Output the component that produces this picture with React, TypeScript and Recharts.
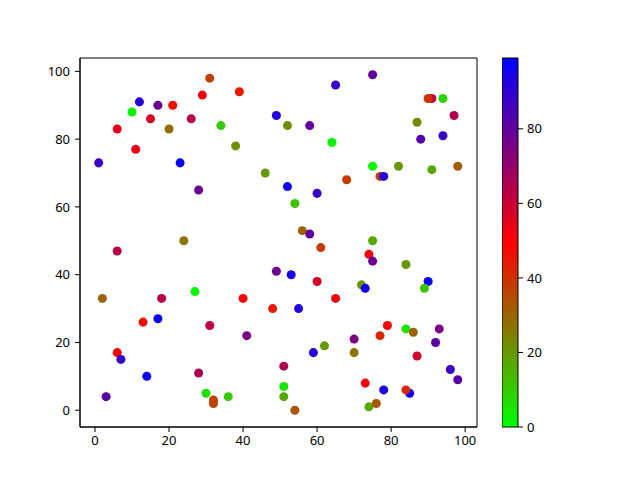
import React from 'react';
import { ScatterChart, Scatter, XAxis, YAxis, ZAxis, Cell, ReferenceArea, BarChart, Bar } from 'recharts';

// point positions and colour values
const xs = [31, 39, 29, 12, 17, 21, 10, 49, 15, 26, 6, 20, 34, 11, 38, 1, 23, 46, 28, 24,
    75, 65, 91, 90, 94, 52, 58, 97, 87, 88, 94, 64, 75, 82, 91, 98, 77, 78, 68, 52,
    60, 54, 56, 58, 75, 61, 6, 49, 2, 18, 27, 40, 48, 13, 17, 31, 41, 6, 7, 14,
    28, 3, 30, 32, 32, 36, 74, 75, 84, 53, 60, 72, 73, 90, 89, 65, 55, 79, 84, 86,
    93, 77, 70, 92, 62, 59, 70, 87, 96, 98, 51, 51, 51, 54, 73, 78, 85, 84, 74, 76];
const ys = [98, 94, 93, 91, 90, 90, 88, 87, 86, 86, 83, 83, 84, 77, 78, 73, 73, 70, 65, 50,
    99, 96, 92, 92, 92, 84, 84, 87, 85, 80, 81, 79, 72, 72, 71, 72, 69, 69, 68, 66,
    64, 61, 53, 52, 50, 48, 47, 41, 33, 33, 35, 33, 30, 26, 27, 25, 22, 17, 15, 10,
    11, 4, 5, 3, 2, 4, 46, 44, 43, 40, 38, 37, 36, 38, 36, 33, 30, 25, 24, 23,
    24, 22, 21, 20, 19, 17, 17, 16, 12, 9, 13, 7, 4, 0, 8, 6, 5, 6, 1, 2];
const cs = [37, 45, 52, 92, 78, 47, 2, 92, 57, 63, 55, 28, 10, 54, 22, 88, 96, 20, 78, 27,
    80, 88, 62, 40, 8, 22, 80, 65, 23, 83, 88, 2, 1, 20, 17, 32, 38, 92, 38, 96,
    88, 12, 30, 80, 17, 38, 63, 78, 30, 63, 1, 50, 45, 46, 96, 62, 75, 51, 88, 97,
    66, 82, 6, 36, 36, 10, 50, 78, 20, 94, 58, 20, 95, 97, 12, 53, 93, 50, 5, 30,
    75, 42, 75, 82, 20, 92, 27, 58, 88, 82, 65, 5, 17, 33, 52, 93, 97, 42, 17, 32];

const axisTicks = [0, 20, 40, 60, 80, 100];
const colorTicks = [0, 20, 40, 60, 80];
const C_MIN = 0;
const C_MAX = 99;

const points = xs.map((x, i) => ({ x, y: ys[i], c: cs[i] }));

// green -> red -> blue
const colorFor = (c: number) => {
    const t = Math.min(1, Math.max(0, (c - C_MIN) / (C_MAX - C_MIN)));
    let r, g, b;
    if (t <= 0.5) {
        const s = t / 0.5;
        r = 255 * s; g = 255 * (1 - s); b = 0;
    } else {
        const s = (t - 0.5) / 0.5;
        r = 255 * (1 - s); g = 0; b = 255 * s;
    }
    return `rgb(${Math.round(r)},${Math.round(g)},${Math.round(b)})`;
};

const X_DOMAIN = [-4.05, 103.2];
const Y_DOMAIN = [-4.95, 103.95];
const font = { fontFamily: 'Noto Sans', fontSize: 13, fill: '#000' };

const App = () => {
    return (
        <div style={{ position: 'absolute', left: 0, top: 0, width: 640, height: 480, background: '#fff' }}>
            <ScatterChart width={640} height={480} margin={{ top: 58, right: 163, bottom: 0, left: 0 }}>
                <XAxis
                    type="number"
                    dataKey="x"
                    domain={X_DOMAIN}
                    ticks={axisTicks}
                    allowDataOverflow
                    height={53}
                    tickSize={5}
                    tickMargin={4}
                    stroke="#000"
                    tick={font}
                />
                <YAxis
                    type="number"
                    dataKey="y"
                    domain={Y_DOMAIN}
                    ticks={axisTicks}
                    allowDataOverflow
                    width={80}
                    tickSize={5}
                    tickMargin={5}
                    stroke="#000"
                    tick={font}
                />
                <ZAxis range={[57, 57]} />
                <ReferenceArea
                    x1={X_DOMAIN[0]} x2={X_DOMAIN[1]} y1={Y_DOMAIN[0]} y2={Y_DOMAIN[1]}
                    fill="none" fillOpacity={0} stroke="#000" strokeOpacity={1}
                />
                <Scatter data={points} isAnimationActive={false}>
                    {points.map((p, i) => <Cell key={i} fill={colorFor(p.c)} />)}
                </Scatter>
            </ScatterChart>
            <div style={{ position: 'absolute', left: 502, top: 0 }}>
                <BarChart
                    width={60}
                    height={480}
                    data={[{ name: 'cbar', v: C_MAX }]}
                    margin={{ top: 58, right: 0, bottom: 53, left: 0 }}
                    barCategoryGap={0}
                >
                    <defs>
                        <linearGradient id="cbarGrad" x1="0" y1="1" x2="0" y2="0">
                            <stop offset="0%" stopColor="rgb(0,255,0)" />
                            <stop offset="50%" stopColor="rgb(255,0,0)" />
                            <stop offset="100%" stopColor="rgb(0,0,255)" />
                        </linearGradient>
                    </defs>
                    <XAxis dataKey="name" hide />
                    <YAxis
                        orientation="right"
                        type="number"
                        domain={[C_MIN, C_MAX]}
                        ticks={colorTicks}
                        width={44}
                        tickSize={5}
                        tickMargin={4}
                        axisLine={false}
                        stroke="#000"
                        tick={{ ...font, textAnchor: 'start' }}
                    />
                    <Bar dataKey="v" fill="url(#cbarGrad)" stroke="#000" isAnimationActive={false} />
                </BarChart>
            </div>
        </div>
    );
};

export default App;
